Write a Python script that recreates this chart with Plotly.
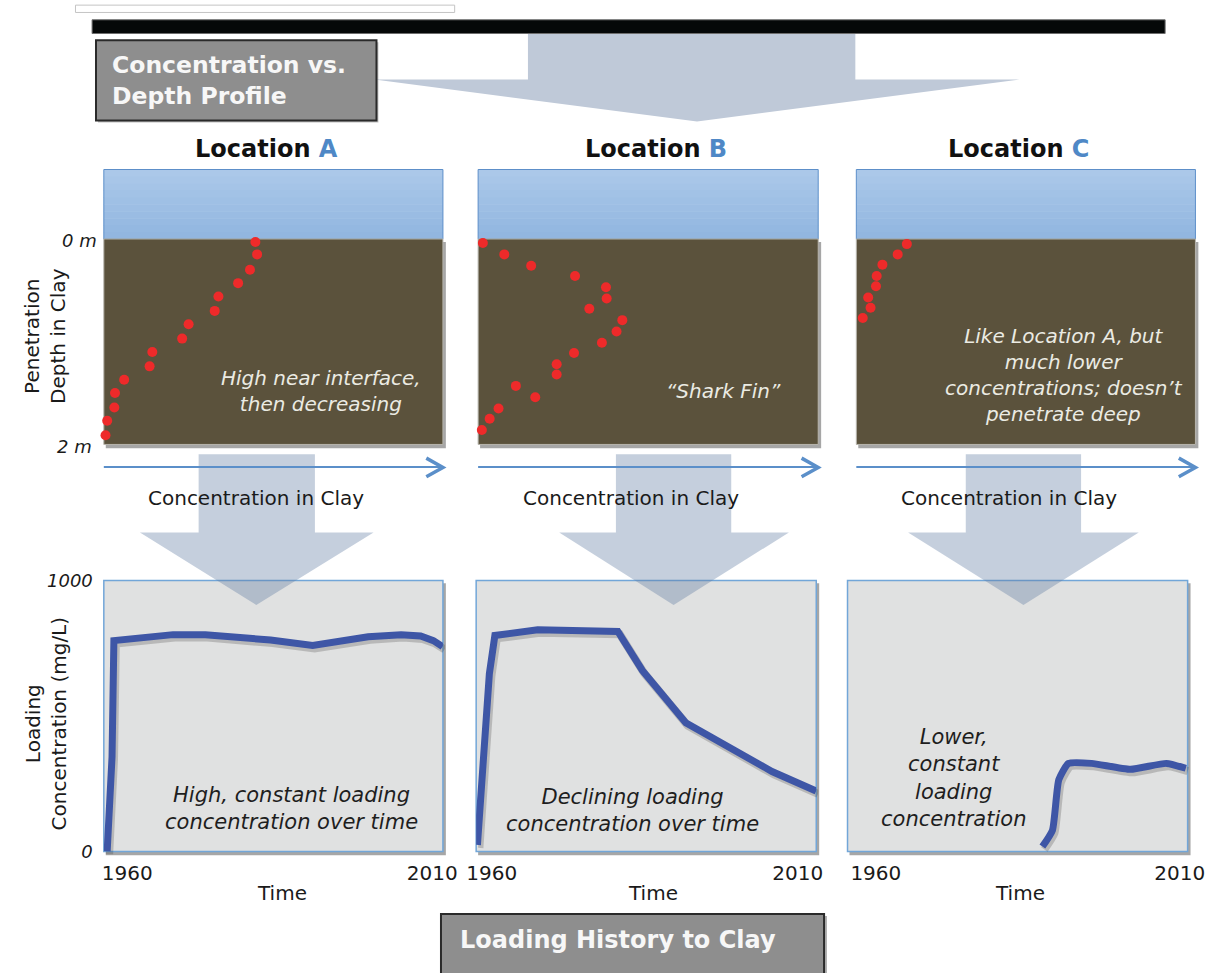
import plotly.graph_objects as go

W, H = 1232, 973

# ---------------- data ----------------
locations = ["A", "B", "C"]

# concentration vs depth profiles (arbitrary concentration units 0-100, depth in m)
depth_A = [0.03, 0.15, 0.30, 0.43, 0.56, 0.70, 0.83, 0.97, 1.10, 1.24, 1.37, 1.50, 1.64, 1.77, 1.91]
conc_A = [44.7, 45.2, 43.1, 39.6, 33.8, 32.7, 25.0, 23.1, 14.3, 13.5, 6.0, 3.3, 3.1, 1.0, 0.5]
depth_B = [0.04, 0.15, 0.26, 0.36, 0.47, 0.58, 0.68, 0.79, 0.90, 1.01, 1.11, 1.22, 1.32, 1.43, 1.54, 1.65, 1.75, 1.86]
conc_B = [1.4, 7.7, 15.6, 28.5, 37.6, 37.8, 32.7, 42.4, 40.7, 36.4, 28.2, 23.1, 23.1, 11.1, 16.8, 6.0, 3.4, 1.1]
depth_C = [0.05, 0.15, 0.25, 0.36, 0.46, 0.57, 0.67, 0.77]
conc_C = [14.9, 12.2, 7.7, 6.0, 5.8, 3.5, 4.2, 1.9]

# loading history (mg/L vs year)
year_A = [1956.7, 1957.5, 1957.8, 1962.1, 1967.5, 1972.8, 1978.2, 1983.5, 1990.4, 1994.2,
          1999.5, 2004.9, 2008.1, 2010.2, 2011.7]
load_A = [0, 350, 778, 790, 800, 800, 792, 780, 760, 772, 792, 800, 795, 778, 756]
year_B = [1957.65, 1959.0, 1959.6, 1960.5, 1967.5, 1980.6, 1984.6, 1991.7, 2005.8, 2013.0]
load_B = [24, 469, 656, 797, 818, 812, 668, 475, 295, 223]
year_C = [1987.4, 1989.05, 1990.1, 1991.7, 1995.5, 2001.9, 2007.8, 2011.0]
load_C = [18, 78, 265, 325, 325, 303, 325, 307]

time_ticks = [1960, 2010]
time_tick_labels = ["1960", "2010"]
load_ticks = [0, 1000]
load_tick_labels = ["0", "1000"]
depth_labels = ["0 m", "2 m"]

profile_notes = ["High near interface,<br>then decreasing",
                 "\u201cShark Fin\u201d",
                 "Like Location A, but<br>much lower<br>concentrations; doesn\u2019t<br>penetrate deep"]
loading_notes = ["High, constant loading<br>concentration over time",
                 "Declining loading<br>concentration over time",
                 "Lower,<br>constant<br>loading<br>concentration"]

# ---------------- layout geometry (pixels) ----------------
FONT = "DejaVu Sans, Arial, sans-serif"
top_x = [(96, 443), (479, 827), (866, 1213)]
water_y = (162, 233)
clay_y = (233, 443)
bot_x = [(96, 443), (477, 825), (857, 1205)]
bot_y = (582, 859)
bot_ranges = [(1956.15, 2011.76), (1957.44, 2013.03), (1955.34, 2011.29)]
SH_DX, SH_DY = 2, 3  # line shadow offset


def fx(px):
    return px / W


def fy(py):
    return 1 - py / H


fig = go.Figure()
layout = dict(width=W, height=H, margin=dict(l=0, r=0, t=0, b=0),
              paper_bgcolor="white", plot_bgcolor="rgba(0,0,0,0)",
              showlegend=False, font=dict(family=FONT, color="#1a1a1a"))

depths = [depth_A, depth_B, depth_C]
concs = [conc_A, conc_B, conc_C]
years = [year_A, year_B, year_C]
loads = [load_A, load_B, load_C]
line_shapes = ["linear", "linear", "spline"]

# depth profiles (axes 1-3)
for i in range(3):
    n = i + 1
    sfx = "" if n == 1 else str(n)
    x0, x1 = top_x[i]
    layout["xaxis" + sfx] = dict(domain=[fx(x0), fx(x1)], range=[0, 100], visible=False,
                                 anchor="y" + sfx, fixedrange=True)
    layout["yaxis" + sfx] = dict(domain=[fy(clay_y[1]), fy(clay_y[0])], range=[2, 0], visible=False,
                                 anchor="x" + sfx, fixedrange=True)
    fig.add_trace(go.Scatter(x=concs[i], y=depths[i], mode="markers",
                             marker=dict(size=10, color="#ee2a2a"), cliponaxis=False,
                             xaxis="x" + sfx, yaxis="y" + sfx, hoverinfo="skip"))

# soft shadow of loading lines (axes 4-6, same data, domain nudged by a few pixels)
for i in range(3):
    sfx = str(i + 4)
    x0, x1 = bot_x[i]
    layout["xaxis" + sfx] = dict(domain=[fx(x0 + SH_DX), fx(x1 + SH_DX)], range=list(bot_ranges[i]),
                                 visible=False, anchor="y" + sfx, fixedrange=True)
    layout["yaxis" + sfx] = dict(domain=[fy(bot_y[1] + SH_DY), fy(bot_y[0] + SH_DY)], range=[0, 1000],
                                 visible=False, anchor="x" + sfx, fixedrange=True)
    fig.add_trace(go.Scatter(x=years[i], y=loads[i], mode="lines",
                             line=dict(color="rgba(40,40,40,0.22)", width=8, shape=line_shapes[i],
                                       smoothing=0.5),
                             cliponaxis=False, xaxis="x" + sfx, yaxis="y" + sfx, hoverinfo="skip"))

# loading history lines (axes 7-9)
for i in range(3):
    sfx = str(i + 7)
    x0, x1 = bot_x[i]
    layout["xaxis" + sfx] = dict(domain=[fx(x0), fx(x1)], range=list(bot_ranges[i]),
                                 anchor="y" + sfx, showgrid=False, zeroline=False, showline=False,
                                 ticks="", tickvals=time_ticks, ticktext=time_tick_labels,
                                 ticklabelstandoff=8,
                                 tickfont=dict(size=20, color="#1a1a1a", family=FONT), fixedrange=True)
    ya = dict(domain=[fy(bot_y[1]), fy(bot_y[0])], range=[0, 1000], anchor="x" + sfx,
              showgrid=False, zeroline=False, showline=False, ticks="", fixedrange=True)
    if i == 0:
        ya.update(tickvals=load_ticks, ticktext=load_tick_labels, ticklabelstandoff=10,
                  tickfont=dict(size=18, color="#1a1a1a", family=FONT, style="italic"))
    else:
        ya.update(showticklabels=False)
    layout["yaxis" + sfx] = ya
    fig.add_trace(go.Scatter(x=years[i], y=loads[i], mode="lines",
                             line=dict(color="#3e56a6", width=7, shape=line_shapes[i], smoothing=0.5),
                             cliponaxis=False, xaxis="x" + sfx, yaxis="y" + sfx, hoverinfo="skip"))

# ---------------- decorative shapes ----------------
shapes = []


def rect(x0, y0, x1, y1, fill, line="rgba(0,0,0,0)", lw=0, layer="below"):
    shapes.append(dict(type="rect", xref="paper", yref="paper", x0=fx(x0), x1=fx(x1),
                       y0=fy(y1), y1=fy(y0), fillcolor=fill, line=dict(color=line, width=lw),
                       layer=layer))


def path(pts, fill=None, line="rgba(0,0,0,0)", lw=0, closed=True, layer="below"):
    d = "M " + " L ".join(f"{fx(x):.5f},{fy(y):.5f}" for x, y in pts)
    if closed:
        d += " Z"
    s = dict(type="path", xref="paper", yref="paper", path=d,
             line=dict(color=line, width=lw), layer=layer)
    if fill:
        s["fillcolor"] = fill
    shapes.append(s)


# faint bottom edge of a box cut off at the very top
rect(67, -6, 455, 1.5, "rgba(0,0,0,0)", "#c4c4c4", 1)
# big top arrow
path([(530, 23), (865, 23), (865, 70), (1033, 70), (703, 113), (373, 70), (530, 70)],
     fill="#bfc9d8")
# black bar
rect(84, 9, 1182, 23, "#050808", "#6d6d6d", 1)
# header box
rect(90, 32, 377, 114, "rgba(0,0,0,0.25)")
rect(88, 30, 375, 112, "#8e8e8e", "#2a2a2a", 2)

# top panels
for (x0, x1) in top_x:
    rect(x0 + 2, clay_y[0] + 3, x1 + 3, clay_y[1] + 4, "rgba(0,0,0,0.35)")
    nb = 10
    top_c = (171, 200, 233)
    bot_c = (146, 182, 224)
    for k in range(nb):
        t = k / (nb - 1)
        c = tuple(int(top_c[j] + (bot_c[j] - top_c[j]) * t) for j in range(3))
        ya = water_y[0] + (water_y[1] - water_y[0]) * k / nb
        yb = water_y[0] + (water_y[1] - water_y[0]) * (k + 1) / nb + 0.6
        rect(x0, ya, x1, min(yb, water_y[1]), "rgb(%d,%d,%d)" % c)
    rect(x0, water_y[0], x1, water_y[1], "rgba(0,0,0,0)", "#5d8fc9", 1)
    rect(x0, clay_y[0], x1, clay_y[1], "#5b523c", "#b8b6ae", 1)

# bottom panels
for (x0, x1) in bot_x:
    rect(x0 + 2, bot_y[0] + 3, x1 + 3, bot_y[1] + 4, "rgba(0,0,0,0.35)")
    rect(x0, bot_y[0], x1, bot_y[1], "#e0e1e1", "#72a6d8", 1.5)

# translucent down arrows
down_arrows = [(193, 312, 133, 372, 252), (620, 738, 562, 797, 679), (978, 1096, 919, 1155, 1037)]
for (r0, r1, t0, t1, ax) in down_arrows:
    path([(r0, 453), (r1, 453), (r1, 533), (t1, 533), (ax, 607), (t0, 533), (r0, 533)],
         fill="rgba(95,122,160,0.36)")

# concentration axis arrows
for (x0, x1) in top_x:
    path([(x0, 466), (x1 - 2, 466)], line="#5b8fc9", lw=2, closed=False)
    path([(x1 - 17, 457), (x1, 466.5), (x1 - 17, 476)], line="#5b8fc9", lw=3.5, closed=False)

# bottom label box
rect(443, 925, 836, 990, "rgba(0,0,0,0.3)")
rect(441, 923, 833, 990, "#8e8e8e", "#2a2a2a", 2)

layout["shapes"] = shapes

# ---------------- text ----------------
ann = []


def text(x, y, s, size, color="#1a1a1a", xanchor="center", yanchor="middle", angle=0, align="center"):
    ann.append(dict(x=fx(x), y=fy(y), xref="paper", yref="paper", text=s, showarrow=False,
                    font=dict(size=size, color=color, family=FONT), xanchor=xanchor,
                    yanchor=yanchor, textangle=angle, align=align))


text(102, 71, "<b>Concentration vs.<br>Depth Profile</b>", 23.5, "#f7f7f7", xanchor="left", align="left")
text(458, 949, "<b>Loading History to Clay</b>", 24, "#f7f7f7", xanchor="left", align="left")

title_cx = [262, 661, 1032]
for i, L in enumerate(locations):
    text(title_cx[i], 141, f"<b>Location <span style='color:#4f88c6'>{L}</span></b>", 24, "#111111")

conc_cx = [252, 635, 1022]
for cx in conc_cx:
    text(cx, 498, "Concentration in Clay", 20)

text(71, 235, f"<i>{depth_labels[0]}</i>", 18)
text(66, 445, f"<i>{depth_labels[1]}</i>", 18)
text(36, 332, "Penetration<br>Depth in Clay", 20, angle=-90)
text(37, 728, "Loading<br>Concentration (mg/L)", 20, angle=-90)

note_pos = [(318, 388), (730, 388), (1079, 372)]
for (cx, cy), s in zip(note_pos, profile_notes):
    text(cx, cy, f"<i>{s}</i>", 20, "#ebebe3")

lnote_pos = [(288, 815), (637, 817), (965, 784)]
for (cx, cy), s in zip(lnote_pos, loading_notes):
    text(cx, cy, f"<i>{s}</i>", 21, "#1e1e1e")

time_cx = [278, 658, 1033]
for cx in time_cx:
    text(cx, 901, "Time", 20)

layout["annotations"] = ann
fig.update_layout(**layout)

fig.write_html("out.html", config={"displayModeBar": False},
               post_script="document.body.style.margin='0';document.body.style.overflow='hidden';")
